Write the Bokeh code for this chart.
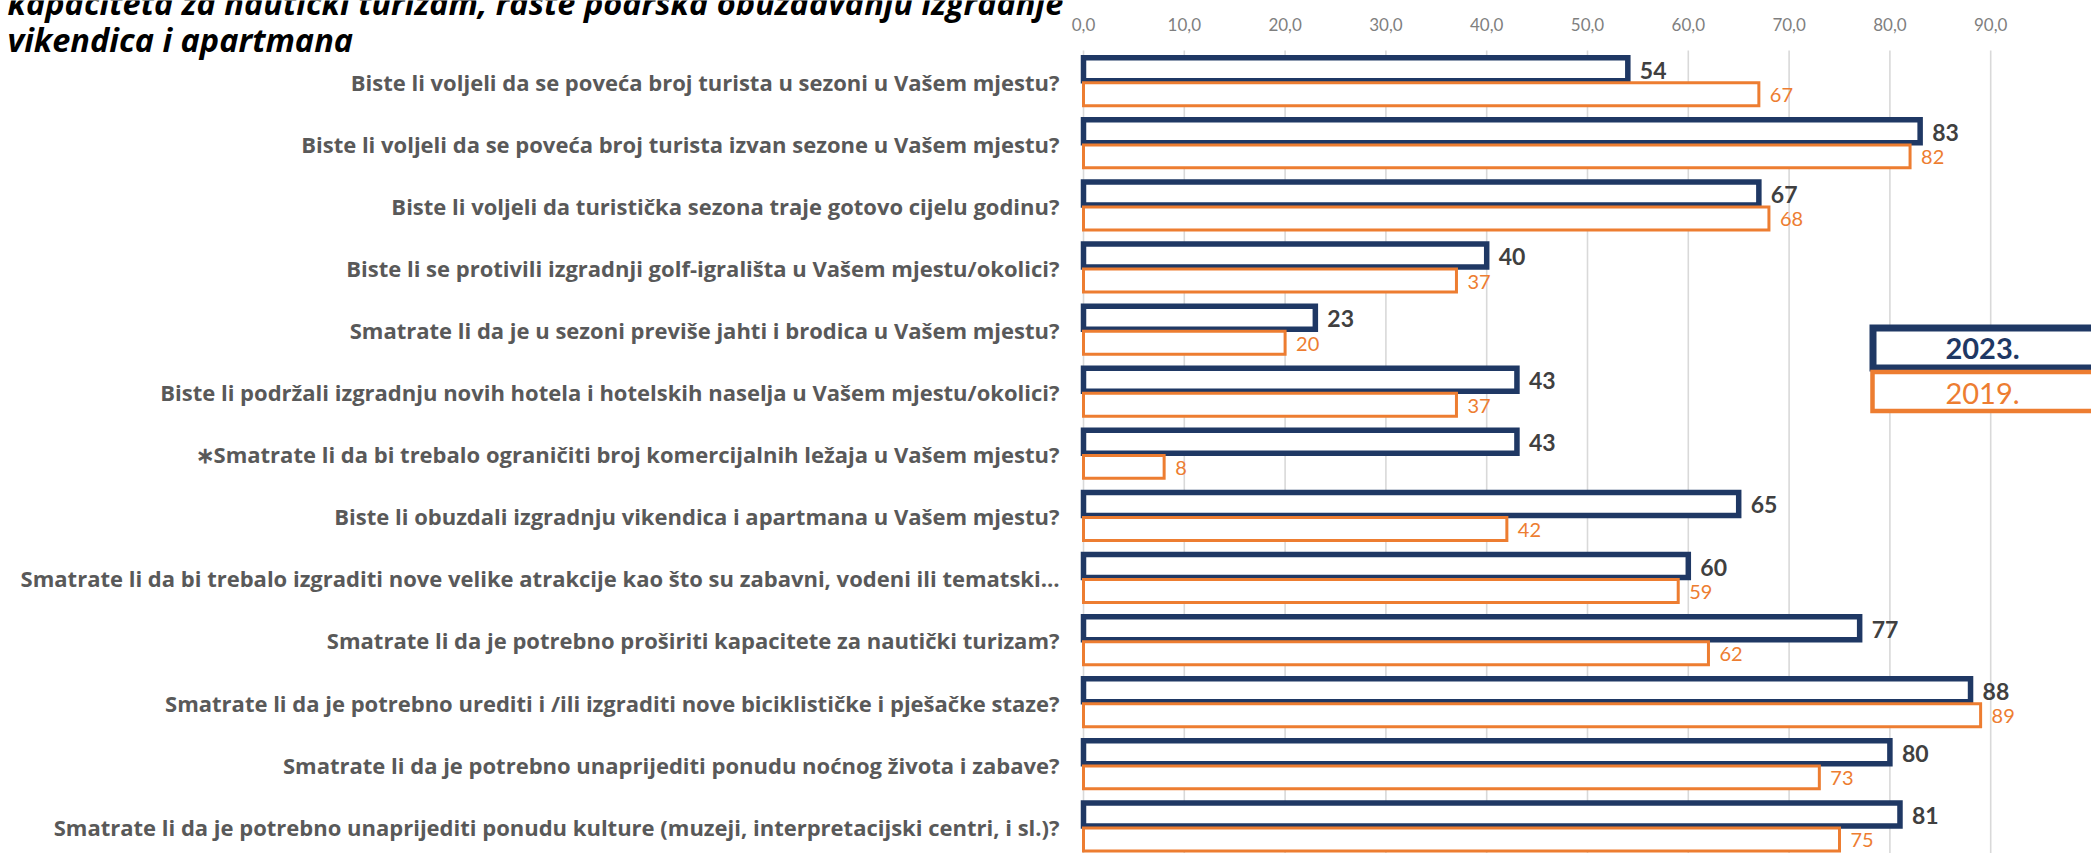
from bokeh.plotting import figure
from bokeh.models import Range1d, ColumnDataSource
from bokeh.embed import file_html
from bokeh.resources import INLINE
from bokeh.core.properties import value

# ---------------- data ----------------
questions = [
    "Biste li voljeli da se poveća broj turista u sezoni u Vašem mjestu?",
    "Biste li voljeli da se poveća broj turista izvan sezone u Vašem mjestu?",
    "Biste li voljeli da turistička sezona traje gotovo cijelu godinu?",
    "Biste li se protivili izgradnji golf-igrališta u Vašem mjestu/okolici?",
    "Smatrate li da je u sezoni previše jahti i brodica u Vašem mjestu?",
    "Biste li podržali izgradnju novih hotela i hotelskih naselja u Vašem mjestu/okolici?",
    "∗Smatrate li da bi trebalo ograničiti broj komercijalnih ležaja u Vašem mjestu?",
    "Biste li obuzdali izgradnju vikendica i apartmana u Vašem mjestu?",
    "Smatrate li da bi trebalo izgraditi nove velike atrakcije kao što su zabavni, vodeni ili tematski…",
    "Smatrate li da je potrebno proširiti kapacitete za nautički turizam?",
    "Smatrate li da je potrebno urediti i /ili izgraditi nove biciklističke i pješačke staze?",
    "Smatrate li da je potrebno unaprijediti ponudu noćnog života i zabave?",
    "Smatrate li da je potrebno unaprijediti ponudu kulture (muzeji, interpretacijski centri, i sl.)?",
]
values_2023 = [54, 83, 67, 40, 23, 43, 43, 65, 60, 77, 88, 80, 81]
values_2019 = [67, 82, 68, 37, 20, 37, 8, 42, 59, 62, 89, 73, 75]
series_names = ["2023.", "2019."]
tick_values = [0, 10, 20, 30, 40, 50, 60, 70, 80, 90]
tick_labels = ["0,0", "10,0", "20,0", "30,0", "40,0", "50,0", "60,0", "70,0", "80,0", "90,0"]
title_lines = [
    "kapaciteta za nautički turizam, raste podrška obuzdavanju izgradnje",
    "vikendica i apartmana",
]

# ---------------- styling / layout ----------------
NAVY = "#1F3864"
ORANGE = "#ED7D31"
LABEL_GRAY = "#595959"
GRID = "#D9D9D9"
W, H = 2091, 853
X0, TOP = 1083, 50            # page position of value 0 / top of plot area
PX_PER_UNIT = 10.08           # pixels per percentage point
PITCH = 62.1                  # pixels per category row


def dx(px):
    """page-pixel x -> value units"""
    return (px - X0) / PX_PER_UNIT


def dy(py):
    """page-pixel y -> row units (rows grow downward)"""
    return -0.5 + (py - TOP) / PITCH


p = figure(width=W, height=H, output_backend="svg", toolbar_location=None,
           x_range=Range1d(dx(0), dx(W)), y_range=Range1d(dy(H), dy(0)),
           x_axis_type=None, y_axis_type=None,
           min_border_left=0, min_border_right=0, min_border_top=0, min_border_bottom=0)
p.outline_line_color = None
p.grid.visible = False
p.background_fill_color = "white"
p.border_fill_color = "white"

n = len(questions)
idx = list(range(n))

# value grid + tick labels (top axis)
p.segment(x0=tick_values, x1=tick_values, y0=[dy(50)] * len(tick_values),
          y1=[dy(H)] * len(tick_values), line_color=GRID, line_width=1.6, level="underlay")
p.text(x=tick_values, y=[dy(24)] * len(tick_values), text=tick_labels,
       text_align="center", text_baseline="middle", text_font=value("Lato"),
       text_font_size="17px", text_color="#7F7F7F")

src = ColumnDataSource(dict(
    q=questions,
    yc=idx,
    zero=[0] * n,
    y23=[i - 0.198 for i in idx],
    y19=[i + 0.205 for i in idx],
    v23=values_2023,
    v19=values_2019,
    t23=[str(v) for v in values_2023],
    t19=[str(v) for v in values_2019],
))

# bars
p.hbar(y="y23", left=0, right="v23", height=0.37, source=src,
       fill_color="white", line_color=NAVY, line_width=5.5, line_join="miter")
p.hbar(y="y19", left=0, right="v19", height=0.37, source=src,
       fill_color="white", line_color=ORANGE, line_width=3, line_join="miter")

# value labels
p.text(x="v23", y="y23", text="t23", source=src, x_offset=12, y_offset=1,
       text_align="left", text_baseline="middle", text_font=value("Lato"),
       text_font_style="bold", text_font_size="23px", text_color="#404040")
p.text(x="v19", y="y19", text="t19", source=src, x_offset=11, y_offset=1,
       text_align="left", text_baseline="middle", text_font=value("Lato"),
       text_font_size="20px", text_color=ORANGE)

# category labels
p.text(x="zero", y="yc", text="q", source=src, x_offset=-24,
       text_align="right", text_baseline="middle", text_font=value("Open Sans"),
       text_font_style="bold", text_font_size="22px", text_color=LABEL_GRAY)

# title (first line cut at the top, as in the reference)
p.text(x=[dx(7), dx(7)], y=[dy(2), dy(39)], text=title_lines,
       text_align="left", text_baseline="alphabetic", text_font=value("Open Sans"),
       text_font_style="bold italic", text_font_size="32.5px", text_color="black")

# legend
xr = dx(W) + 5
p.quad(left=[dx(1872.5)], right=[xr], top=[dy(327.5)], bottom=[dy(367.5)],
       fill_color="white", line_color=NAVY, line_width=7, line_join="miter")
p.quad(left=[dx(1872)], right=[xr], top=[dy(371.5)], bottom=[dy(410.5)],
       fill_color="white", line_color=ORANGE, line_width=4.5, line_join="miter")
p.text(x=[dx(1982)], y=[dy(348)], text=[series_names[0]], text_align="center",
       text_baseline="middle", text_font=value("Lato"), text_font_style="bold",
       text_font_size="29px", text_color=NAVY)
p.text(x=[dx(1982)], y=[dy(393)], text=[series_names[1]], text_align="center",
       text_baseline="middle", text_font=value("Lato"),
       text_font_size="29px", text_color=ORANGE)

open("out.html", "w").write(file_html(p, INLINE))
